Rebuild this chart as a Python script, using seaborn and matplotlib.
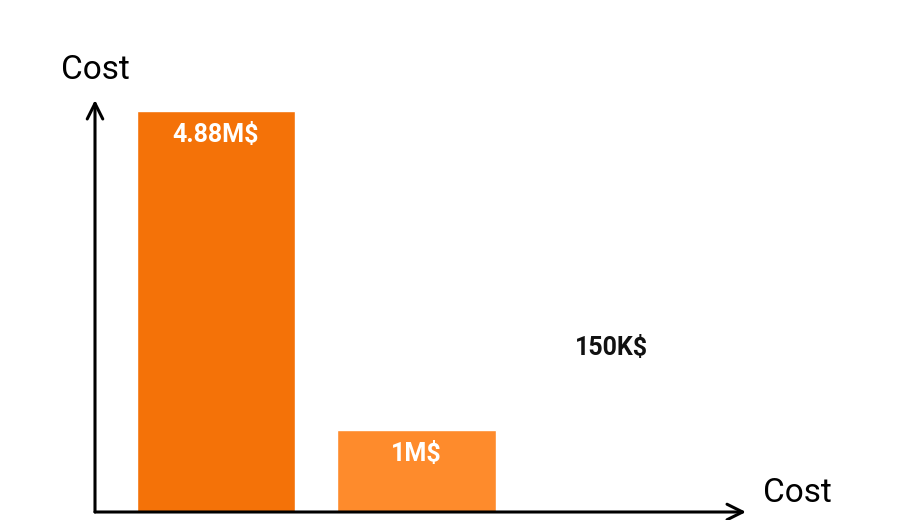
import numpy as np
import pandas as pd
import seaborn as sns
import matplotlib.pyplot as plt

# 데이터
categories = ["A", "B", "C"]
costs = [4.88, 1.0, 0.15]          # 백만 달러 단위
labels = ["4.88M$", "1M$", "150K$"]
bar_colors = ["#F47208", "#FE8B2C", "#FFFFFF"]
label_colors = ["white", "white", "#111111"]

df = pd.DataFrame({"category": categories, "cost": costs})

sns.set_theme(style="white")
plt.rcParams["font.family"] = ["Roboto", "DejaVu Sans"]

fig = plt.figure(figsize=(9.24, 5.2), dpi=100)
ax = fig.add_axes([95 / 924, 8 / 520, (746 - 95) / 924, (512 - 100) / 520])

sns.barplot(data=df, x="category", y="cost", hue="category",
            palette=bar_colors, width=0.79, legend=False, ax=ax,
            saturation=1)
# 세번째 막대는 보이지 않음
ax.patches[2].set_alpha(0)

ax.set_xlim(-0.603, 2.643)
ax.set_ylim(0, 5.01)
for s in ax.spines.values():
    s.set_visible(False)
ax.set_xticks([])
ax.set_yticks([])
ax.set_xlabel("")
ax.set_ylabel("")

# 막대 라벨
for i, (v, t, c) in enumerate(zip(costs, labels, label_colors)):
    if i < 2:
        ax.text(i, v - 0.29, t, ha="center", va="center", color=c,
                fontsize=18, fontweight="bold")
    else:
        ax.text(i - 0.03, 2.0, t, ha="center", va="center", color=c,
                fontsize=18, fontweight="bold")

# 화살표 축
arrow = dict(arrowstyle="->", lw=2.2, color="black",
             mutation_scale=28, shrinkA=0, shrinkB=0)
ax.annotate("", xy=(0, 1), xytext=(0, 0), xycoords="axes fraction",
            arrowprops=arrow, annotation_clip=False)
ax.annotate("", xy=(1, 0), xytext=(0, 0), xycoords="axes fraction",
            arrowprops=arrow, annotation_clip=False)

fig.text(95 / 924, 1 - 70 / 520, "Cost", ha="center", va="center",
         fontsize=24, color="black")
fig.text(797 / 924, 1 - 493 / 520, "Cost", ha="center", va="center",
         fontsize=24, color="black")

fig.savefig("out.png", dpi=100, facecolor="white")
